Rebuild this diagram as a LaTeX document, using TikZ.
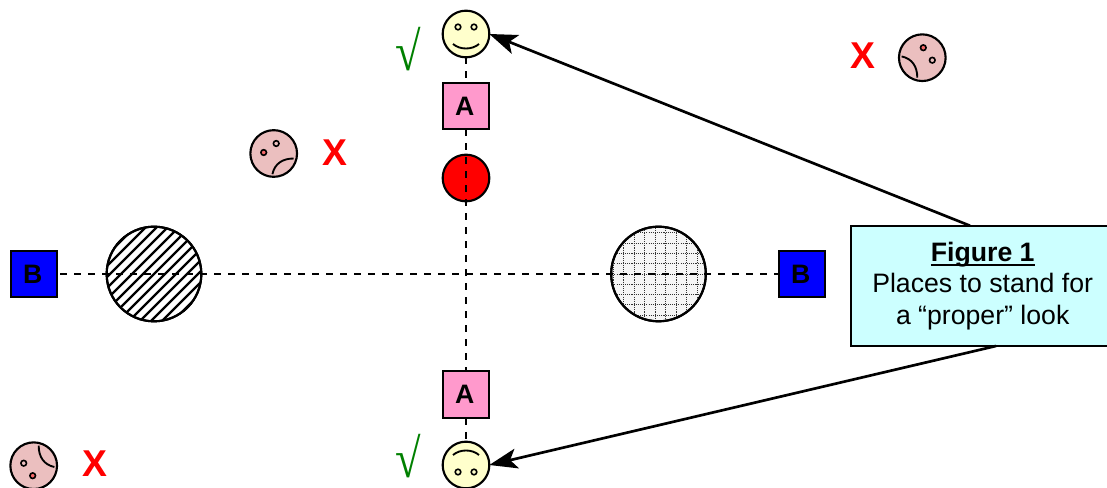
\documentclass[tikz,border=0pt]{standalone}
\usepackage{fontspec}
\usepackage{graphicx}
\setmainfont{Liberation Sans}
\newfontfamily\surdfont{Liberation Serif}
\usetikzlibrary{arrows.meta}
\definecolor{happyfill}{HTML}{FFFFCC}
\definecolor{sadfill}{HTML}{EBBFBF}
\definecolor{squareA}{HTML}{FF99CC}
\definecolor{calloutfill}{HTML}{CCFFFF}
\definecolor{tickgreen}{HTML}{008000}
\newcommand{\thickrule}[1]{\setbox0\hbox{#1}\rlap{\rule[-3.4pt]{\wd0}{1.5pt}}\box0}
\newcommand{\tickmark}{\smash{\scalebox{0.85}[1]{√}}}

\begin{document}
\begin{tikzpicture}[
  x=0.75pt,y=-0.75pt,
  font=\fontsize{20pt}{23.6pt}\selectfont,
  face/.style={circle, draw=black, line width=1.6pt, minimum size=35pt, inner sep=0pt, outer sep=0pt},
  eye/.style={draw=black, line width=1.2pt},
  mouth/.style={draw=black, line width=1.4pt},
  square/.style={draw=black, line width=1.6pt, minimum size=35pt, inner sep=0pt, outer sep=0pt, font=\fontsize{20pt}{20pt}\selectfont\bfseries},
  disc/.style={circle, draw=black, line width=1.6pt, inner sep=0pt, outer sep=0pt},
  sightline/.style={black, line width=1.3pt, dash pattern=on 5.25pt off 5.25pt},
  wrong/.style={red, inner sep=0pt, font=\fontsize{28pt}{28pt}\selectfont\bfseries},
  right/.style={tickgreen, inner sep=0pt, font=\fontsize{41pt}{41pt}\surdfont\bfseries},
  pointer/.style={black, line width=2pt, -{Stealth[length=21pt,width=15pt,inset=5pt]}}
]
\useasboundingbox (0,0) rectangle (1107,488);

% Hatched and checked discs.
\node[disc, minimum size=71pt, fill=white] (hatched) at (154,274) {};
\begin{scope}
  \clip (154,274) circle[radius=48];
  \foreach \k in {-10,...,10}
    \draw[black, line width=1.7pt] (154+\k*11-60,334) -- (154+\k*11+60,214);
\end{scope}
\node[disc, minimum size=71pt] (hatchedrim) at (hatched) {};

\node[disc, minimum size=71pt, fill=black!4] (checked) at (658.5,274) {};
\begin{scope}
  \clip (658.5,274) circle[radius=48];
  \foreach \k in {-5,...,5} {
    \draw[black!80, line width=0.6pt, dash pattern=on 0.8pt off 0.8pt] (655+\k*10.5,224) -- (655+\k*10.5,324);
    \draw[black!80, line width=0.6pt, dash pattern=on 0.8pt off 0.8pt] (608,274+\k*10.3) -- (708,274+\k*10.3);
  }
\end{scope}
\node[disc, minimum size=71pt] (checkedrim) at (checked) {};

\node[disc, minimum size=35pt, fill=red] (reddot) at (466,178) {};

% Squares.
\node[square, fill=squareA] (Atop) at (466,106) {A\kern2pt};
\node[square, fill=squareA] (Abot) at (466,394.5) {A\kern2pt};
\node[square, fill=blue] (Bleft) at (34,274) {B\kern2pt};
\node[square, fill=blue] (Bright) at (802,274) {B\kern2pt};

% Faces in the proper places.
\foreach \name/\x/\y/\r in {happy/466/34/0, frown/466/465/180} {
  \node[face, fill=happyfill] (\name) at (\x,\y) {};
  \begin{scope}[shift={(\name)}, rotate=\r]
    \draw[eye, fill=happyfill] (-8,-7) circle[radius=2.8];
    \draw[eye, fill=happyfill] (8,-7) circle[radius=2.8];
    \draw[mouth] (-13,10) .. controls (-6,16) and (6,16) .. (13,10);
  \end{scope}
}

% Faces in the wrong places.
\foreach \name/\x/\y/\r in {sadA/273.7/153.5/0, sadB/922.3/57.7/-90, sadC/33.7/465.7/90} {
  \node[face, fill=sadfill] (\name) at (\x,\y) {};
  \begin{scope}[shift={(\name)}, rotate=\r]
    \draw[eye, fill=red!45!sadfill] (-10,-1) circle[radius=2.8];
    \draw[eye, fill=sadfill] (2.5,-10) circle[radius=2.8];
    \draw[mouth] (-1.3,20.7) .. controls (1,10) and (9,5) .. (20,5);
  \end{scope}
}

% Marks.
\node[wrong] (crossA) at (334.7,152.5) {X};
\node[wrong] (crossB) at (863,55.7) {X};
\node[wrong] (crossC) at (94.5,463.5) {X};
\node[right, anchor=base] (tickA) at (408,71) {\tickmark};
\node[right, anchor=base] (tickB) at (408,477) {\tickmark};

% Sight lines.
\draw[sightline] (Bleft) ++(26,0) -- (Bright.west);
\draw[sightline] (happy) -- (Atop);
\draw[sightline] (Atop) -- (Abot);
\draw[sightline] (Abot) -- (frown);

% Callout, cut by the right edge.
\node[draw=black, line width=1.6pt, fill=calloutfill, minimum width=198pt, minimum height=89.5pt, inner sep=0pt, outer sep=0pt, align=center] (callout) at (982.7,286)
  {\thickrule{\bfseries Figure 1}\\Places to stand for\\a “proper” look};
\coordinate (calloutN) at (970,225.7);
\coordinate (calloutS) at (996,346);
\draw[pointer] (calloutN) -- (happy.east);
\draw[pointer] (calloutS) -- (frown.east);

\end{tikzpicture}
\end{document}
